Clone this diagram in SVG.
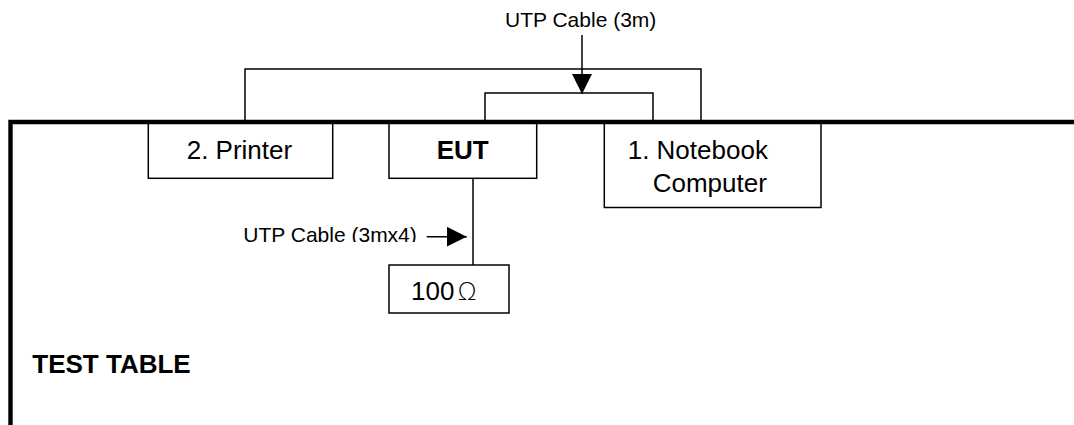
<svg xmlns="http://www.w3.org/2000/svg" width="1074" height="425" viewBox="0 0 1074 425">
<style>
.box{fill:#fff;stroke:#000;stroke-width:1.5}
.wire{fill:none;stroke:#000;stroke-width:1.5}
.lbl{font-family:"Liberation Sans",Arial,sans-serif;font-size:26px;fill:#000}
.b{font-weight:bold}
.cap{font-family:"Liberation Sans",Arial,sans-serif;font-size:21px;fill:#000}
</style>
<defs>
<marker id="ah" markerUnits="userSpaceOnUse" markerWidth="20" markerHeight="20" refX="20" refY="10" orient="auto" viewBox="0 0 20 20">
<path d="M0,0 L20,10 L0,20 z" fill="#000"/>
</marker>
<clipPath id="clipCap"><rect x="200" y="210" width="230" height="32"/></clipPath>
</defs>
<g id="connectors">
<polyline class="wire" points="245,122 245,69 701,69 701,122"/>
<polyline class="wire" points="485,122 485,93 653,93 653,122"/>
<line class="wire" x1="473" y1="178.5" x2="473" y2="265"/>
<line class="wire" x1="582" y1="35" x2="582" y2="94" marker-end="url(#ah)"/>
<line class="wire" x1="426.7" y1="236.7" x2="466.7" y2="236.7" marker-end="url(#ah)"/>
<text class="cap" x="505" y="27">UTP Cable (3m)</text>
<text class="cap" x="243.3" y="241.5" clip-path="url(#clipCap)">UTP Cable (3mx4)</text>
</g>
<g id="printer">
<rect class="box" x="148.3" y="122" width="184.4" height="56.3"/>
<text class="lbl" x="186.7" y="159">2. Printer</text>
</g>
<g id="eut">
<rect class="box" x="389" y="122" width="147.7" height="56.3"/>
<text class="lbl b" x="436.7" y="159">EUT</text>
</g>
<g id="notebook">
<rect class="box" x="604.3" y="122" width="216.7" height="85.5"/>
<text class="lbl" x="627.7" y="159.3">1. Notebook</text>
<text class="lbl" x="652.7" y="191.7">Computer</text>
</g>
<g id="resistor">
<rect class="box" x="389" y="265" width="120" height="48"/>
<text class="lbl" x="411" y="300">100<tspan dx="3" font-family="'DejaVu Sans',sans-serif" font-weight="300" font-size="25px">Ω</tspan></text>
</g>
<g id="test-table">
<path d="M10.5,425 L10.5,122 L1074,122" fill="none" stroke="#000" stroke-width="4.4"/>
<text class="lbl b" x="32.3" y="372.5">TEST TABLE</text>
</g>
</svg>
